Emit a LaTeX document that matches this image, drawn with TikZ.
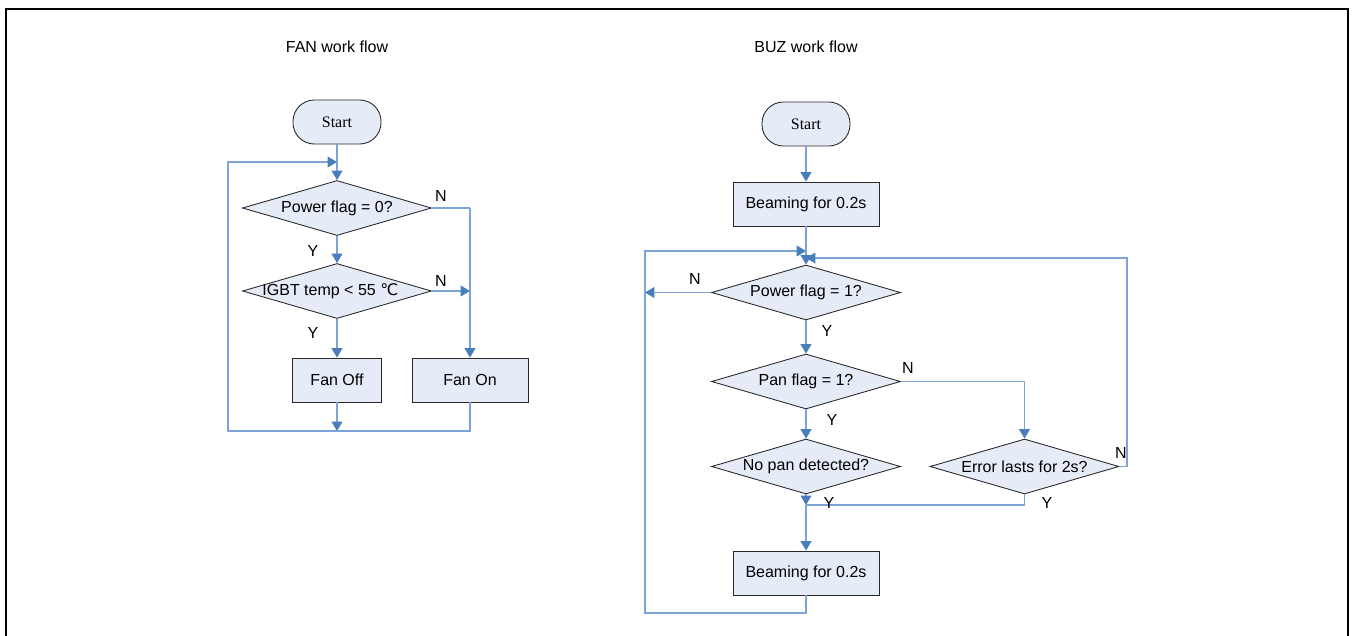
\documentclass[tikz,border=0pt]{standalone}
\usepackage{fontspec}
\setmainfont{Liberation Sans}
\newfontfamily\serifstart{Liberation Serif}
\newfontfamily\dejavu{DejaVu Sans}
\usetikzlibrary{shapes.geometric,arrows.meta}
\definecolor{linecol}{RGB}{125,163,215}
\definecolor{tipcol}{RGB}{74,126,187}
\definecolor{boxfill}{RGB}{230,236,247}
\definecolor{edgecol}{RGB}{40,40,40}
\begin{document}
\begin{tikzpicture}[x=0.75pt,y=-0.75pt,
  conn/.style={draw=linecol, line width=1.1pt},
  arr/.style={conn, -{Triangle[length=7pt,width=8pt,color=tipcol,fill=tipcol]}},
  procbox/.style={draw=edgecol, fill=boxfill, line width=0.65pt, inner sep=0pt, minimum height=33pt, font=\fontsize{12}{14}\selectfont},
  termbox/.style={procbox, rounded corners=16pt, minimum width=66pt, font=\serifstart\fontsize{12}{14}\selectfont},
  decis/.style={diamond, draw=edgecol, fill=boxfill, line width=0.65pt, inner sep=0pt, minimum width=141.75pt, minimum height=41.25pt},
  dtext/.style={font=\fontsize{12}{14}\selectfont},
  yn/.style={font=\fontsize{12}{14}\selectfont},
  ttl/.style={font=\fontsize{12}{14}\selectfont}
]
\useasboundingbox (0,0) rectangle (1355,635);
\draw[line width=1.5pt] (6,640) -- (6,9) -- (1348,9) -- (1348,640);

% ---------- FAN ----------
\node[ttl] (ftitle) at (337,47) {FAN work flow};
\node[termbox] (fstart) at (337,122) {Start};
\node[decis, label={[dtext]center:Power flag = 0?}] (fd1) at (337,208) {};
\node[decis, label={[dtext,xshift=-5pt]center:IGBT temp < 55 {\dejavu ℃}}] (fd2) at (337,291) {};
\node[procbox, minimum width=66.75pt] (foff) at (337,380) {Fan Off};
\node[procbox, minimum width=87pt] (fon) at (470,380) {Fan On};
\coordinate (floop) at (337,162);
\coordinate (fjoin) at (337,431);
\coordinate (fmerge) at (470,291);

\draw[conn] (fstart.south) -- (floop);
\draw[arr] (floop) -- (fd1.north);
\draw[conn] (fd1.east) -- (fd1.east -| fon.north);
\draw[arr] (fd1.east -| fon.north) -- (fon.north);
\draw[arr] (fd1.south) -- (fd2.north);
\draw[arr] (fd2.east) -- (fmerge);
\draw[arr] (fd2.south) -- (foff.north);
\draw[arr] (foff.south) -- (fjoin);
\draw[arr] (fon.south) -- (fon.south |- fjoin) -- (228,431) -- (228,162) -- (floop);

\node[yn] (fn1) at (441,196) {N};
\node[yn] (fy1) at (313,251) {Y};
\node[yn] (fn2) at (441,281) {N};
\node[yn] (fy2) at (313,333) {Y};

% ---------- BUZ ----------
\node[ttl] (btitle) at (806,47) {BUZ work flow};
\node[termbox] (bstart) at (806,124) {Start};
\node[procbox, minimum width=109.5pt] (bbeam1) at (806,204) {Beaming for 0.2s};
\node[decis, label={[dtext]center:Power flag = 1?}] (bpow) at (806,292.5) {};
\node[decis, label={[dtext]center:Pan flag = 1?}] (bpan) at (806,381.5) {};
\node[decis, label={[dtext]center:No pan detected?}] (bnopan) at (806,466.5) {};
\node[decis, label={[dtext]center:Error lasts for 2s?}] (berr) at (1024.5,466.5) {};
\node[procbox, minimum width=109.5pt] (bbeam2) at (806,573) {Beaming for 0.2s};
\coordinate (bleft) at (806,251);
\coordinate (bright) at (806,258);
\coordinate (bjoin) at (806,505);
\coordinate (bnout) at (645,292.5);

\draw[arr] (bstart.south) -- (bbeam1.north);
\draw[arr] (bbeam1.south) -- (bpow.north);
\draw[arr] (bbeam2.south) -- (806,613) -- (645,613) -- (645,251) -- (bleft);
\draw[arr] (bpow.west) -- (bnout);
\draw[arr] (bpow.south) -- (bpan.north);
\draw[conn] (bpan.east) -- (bpan.east -| berr.north);
\draw[arr] (bpan.east -| berr.north) -- (berr.north);
\draw[arr] (bpan.south) -- (bnopan.north);
\draw[arr] (berr.east) -- (1127,466.5) -- (1127,258) -- (bright);
\draw[conn] (berr.south) -- (berr.south |- bjoin) -- (bjoin);
\draw[arr] (bnopan.south) -- (bjoin);
\draw[arr] (bjoin) -- (bbeam2.north);

\node[yn] (bn1) at (695,279) {N};
\node[yn] (by1) at (827,331) {Y};
\node[yn] (bn2) at (908,368) {N};
\node[yn] (by2) at (832,420) {Y};
\node[yn] (bn3) at (1121,453) {N};
\node[yn] (by3) at (829,503) {Y};
\node[yn] (by4) at (1047,503) {Y};
\end{tikzpicture}
\end{document}
